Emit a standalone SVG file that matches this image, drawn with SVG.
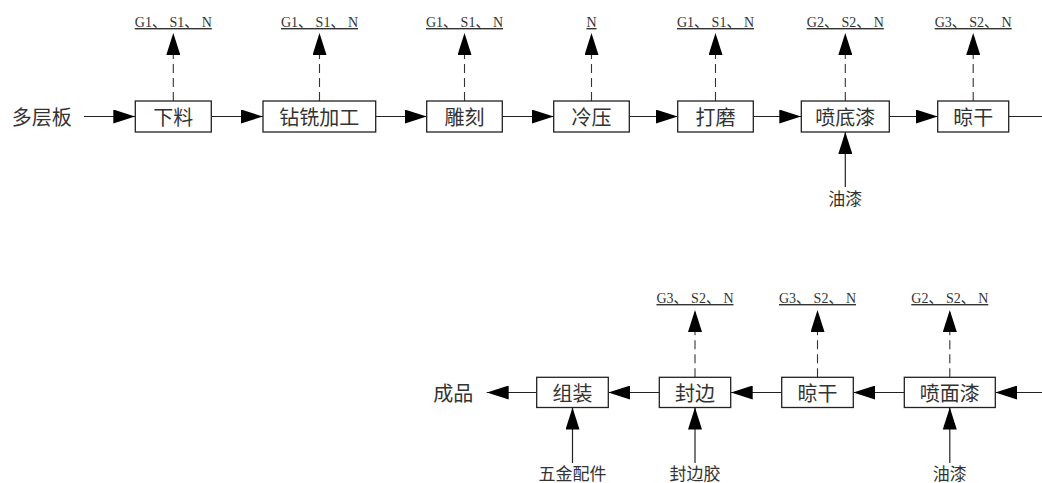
<svg xmlns="http://www.w3.org/2000/svg" width="1042" height="483" viewBox="0 0 1042 483">
<style>
.box{fill:#fff;stroke:#222;stroke-width:1.3}
.bt{font-family:"Noto Sans CJK SC",sans-serif;font-size:20px;fill:#333;text-anchor:middle;dominant-baseline:central}
.lt{font-family:"Noto Sans CJK SC",sans-serif;font-size:17px;fill:#333;text-anchor:middle}
.em{font-family:"Liberation Serif","Noto Sans CJK SC",serif;font-size:14px;fill:#333;text-anchor:middle;text-decoration:underline}
.ln{fill:none;stroke:#222;stroke-width:1.2}
.ds{fill:none;stroke:#333;stroke-width:1.1;stroke-dasharray:9 5}
</style>
<defs>
<marker id="ah" markerUnits="userSpaceOnUse" markerWidth="22" markerHeight="14" refX="22" refY="7" orient="auto" viewBox="0 0 22 14">
<path d="M0,0 L22,7 L0,14 Z" fill="#000"/>
</marker>
</defs>
<rect width="1042" height="483" fill="#fff"/>

<g id="connectors">
<path class="ln" d="M84,116.5 H135.3" marker-end="url(#ah)"/>
<path class="ln" d="M211.3,116.5 H263" marker-end="url(#ah)"/>
<path class="ln" d="M375.7,116.5 H426.7" marker-end="url(#ah)"/>
<path class="ln" d="M502.3,116.5 H553.7" marker-end="url(#ah)"/>
<path class="ln" d="M629.3,116.5 H677.7" marker-end="url(#ah)"/>
<path class="ln" d="M753.3,116.5 H801.3" marker-end="url(#ah)"/>
<path class="ln" d="M889.3,116.5 H937.7" marker-end="url(#ah)"/>
<path class="ln" d="M1008.7,116.5 H1042"/>
<path class="ds" d="M173.3,101 V33" marker-end="url(#ah)"/>
<path class="ds" d="M319.5,101 V33" marker-end="url(#ah)"/>
<path class="ds" d="M464.5,101 V33" marker-end="url(#ah)"/>
<path class="ds" d="M591.5,101 V33" marker-end="url(#ah)"/>
<path class="ds" d="M715.5,101 V33" marker-end="url(#ah)"/>
<path class="ds" d="M845.3,101 V33" marker-end="url(#ah)"/>
<path class="ds" d="M973.2,101 V33" marker-end="url(#ah)"/>
<path class="ln" d="M845.3,187 V132" marker-end="url(#ah)"/>
<path class="ln" d="M1042,392.5 H995.3" marker-end="url(#ah)"/>
<path class="ln" d="M904.3,392.5 H853.3" marker-end="url(#ah)"/>
<path class="ln" d="M781.7,392.5 H730.7" marker-end="url(#ah)"/>
<path class="ln" d="M659.3,392.5 H608.3" marker-end="url(#ah)"/>
<path class="ln" d="M536.7,392.5 H486.7" marker-end="url(#ah)"/>
<path class="ds" d="M695,377.3 V310" marker-end="url(#ah)"/>
<path class="ds" d="M817.5,377.3 V310" marker-end="url(#ah)"/>
<path class="ds" d="M949.8,377.3 V310" marker-end="url(#ah)"/>
<path class="ln" d="M572.5,463 V407.5" marker-end="url(#ah)"/>
<path class="ln" d="M695,463 V407.5" marker-end="url(#ah)"/>
<path class="ln" d="M949.8,463 V407.5" marker-end="url(#ah)"/>
</g>

<g id="n-raw"><text class="bt" x="41.7" y="116.5">多层板</text></g>
<g id="n-xialiao"><rect class="box" x="135.3" y="101" width="76" height="31"/><text class="bt" x="173.3" y="116.5">下料</text></g>
<g id="n-zuanxi"><rect class="box" x="263" y="101" width="112.7" height="31"/><text class="bt" x="319.3" y="116.5">钻铣加工</text></g>
<g id="n-diaoke"><rect class="box" x="426.7" y="101" width="75.6" height="31"/><text class="bt" x="464.5" y="116.5">雕刻</text></g>
<g id="n-lengya"><rect class="box" x="553.7" y="101" width="75.6" height="31"/><text class="bt" x="591.5" y="116.5">冷压</text></g>
<g id="n-damo"><rect class="box" x="677.7" y="101" width="75.6" height="31"/><text class="bt" x="715.5" y="116.5">打磨</text></g>
<g id="n-pendiqi"><rect class="box" x="801.3" y="101" width="88" height="31"/><text class="bt" x="845.3" y="116.5">喷底漆</text></g>
<g id="n-liang1"><rect class="box" x="937.7" y="101" width="71" height="31"/><text class="bt" x="973.2" y="116.5">晾干</text></g>

<g id="e-top">
<text class="em" x="173.3" y="27">G1、 S1、 N</text>
<text class="em" x="319.5" y="27">G1、 S1、 N</text>
<text class="em" x="464.5" y="27">G1、 S1、 N</text>
<text class="em" x="591.5" y="27">N</text>
<text class="em" x="715.5" y="27">G1、 S1、 N</text>
<text class="em" x="845.3" y="27">G2、 S2、 N</text>
<text class="em" x="973.2" y="27">G3、 S2、 N</text>
</g>
<g id="in-youqi1"><text class="lt" x="845.3" y="205">油漆</text></g>

<g id="n-penmianqi"><rect class="box" x="904.3" y="377.3" width="91" height="30.2"/><text class="bt" x="949.8" y="392.5">喷面漆</text></g>
<g id="n-liang2"><rect class="box" x="781.7" y="377.3" width="71.6" height="30.2"/><text class="bt" x="817.5" y="392.5">晾干</text></g>
<g id="n-fengbian"><rect class="box" x="659.3" y="377.3" width="71.4" height="30.2"/><text class="bt" x="695" y="392.5">封边</text></g>
<g id="n-zuzhuang"><rect class="box" x="536.7" y="377.3" width="71.6" height="30.2"/><text class="bt" x="572.5" y="392.5">组装</text></g>
<g id="n-product"><text class="bt" x="453.3" y="392.5">成品</text></g>

<g id="e-bottom">
<text class="em" x="695" y="303">G3、 S2、 N</text>
<text class="em" x="817.5" y="303">G3、 S2、 N</text>
<text class="em" x="949.8" y="303">G2、 S2、 N</text>
</g>
<g id="in-bottom">
<text class="lt" x="572.5" y="480">五金配件</text>
<text class="lt" x="695" y="480">封边胶</text>
<text class="lt" x="949.8" y="480">油漆</text>
</g>
</svg>
